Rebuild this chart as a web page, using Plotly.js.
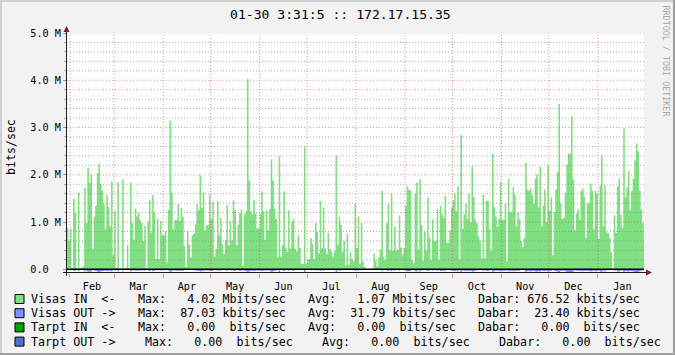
<!DOCTYPE html>
<html><head><meta charset="utf-8">
<script src="https://cdn.plot.ly/plotly-3.0.1.min.js"></script>
<style>html,body{margin:0;padding:0;background:#f2f2f2;}#chart{width:675px;height:355px;}</style>
</head><body><div id="chart"></div>
<script>
// ---- data: daily averages, Visas IN (Mbits/sec) ----
const jan13 = [0.88, 0.61];
const feb13 = [0.86,0.03,1.50,1.19,0.03,1.62,0.03,0.04,0.06,1.72,0.98,2.15,1.83,2.01,0.44,1.12,1.35,2.04,2.24,1.81,1.67,1.39,0.85,1.57,1.32,0.91,1.86,0.30];
const mar13 = [1.23,0.02,1.84,0.03,0.02,1.90,0.02,0.03,0.52,0.02,1.83,0.98,0.63,1.28,1.12,1.19,1.04,0.98,0.60,0.92,0.02,1.00,1.46,0.77,1.58,1.21,0.22,1.07,0.22,1.02,0.72];
const apr13 = [0.72,0.81,0.15,1.26,3.15,1.62,0.85,1.04,1.04,1.38,1.02,1.30,1.11,0.49,0.05,0.81,0.52,0.25,0.72,0.75,0.95,1.38,1.25,1.99,1.30,1.62,0.82,0.93,0.93,1.57];
const may13 = [1.06,1.43,0.27,0.43,1.44,0.72,1.09,0.53,0.32,0.63,1.35,0.51,1.02,0.61,1.46,1.25,0.51,0.95,1.19,1.27,0.08,1.16,1.23,4.02,1.88,1.23,1.16,1.47,1.18,0.87,0.87];
const jun13 = [1.18,1.65,1.23,0.63,1.25,0.82,1.28,2.33,1.88,1.28,1.07,0.27,2.39,0.27,0.51,1.65,0.46,0.37,1.25,0.44,1.00,1.07,0.44,0.38,0.72,0.45,0.12,0.12,2.59,0.12];
const jul13 = [0.20,0.22,0.66,0.54,0.22,0.98,0.79,0.34,1.45,0.44,1.30,0.44,0.32,0.77,0.43,0.37,0.27,0.38,2.41,0.52,1.11,0.95,0.37,0.60,0.08,0.75,0.10,0.37,0.22,0.17,1.38];
const aug13 = [0.45,1.12,0.12,0.98,0.16,0.05,0,0,0,0,0,0.33,0.19,0.06,0.25,0.42,1.67,0.27,0.19,0.98,1.39,0.40,1.60,0.40,0.90,0.40,0.42,1.14,0.46,0.30,0.45];
const sep13 = [1.35,1.76,1.69,1.67,0.20,0.13,1.60,1.83,0.42,1.90,0.93,0.19,0.79,0.40,1.52,0.67,0.20,1.06,0.60,0.60,1.28,0.20,1.35,1.16,1.09,1.55,0.56,0.56,0.83,1.31];
const oct13 = [1.46,1.60,1.23,1.76,0.22,2.84,0.86,1.16,1.40,1.07,1.60,1.00,2.17,1.53,1.04,0.98,0.70,0.61,0.23,1.57,0.23,1.45,1.45,0.85,0.39,2.44,1.32,1.12,0.90,1.07,1.85];
const nov13 = [1.05,1.05,1.38,0.17,1.91,1.21,1.21,1.74,1.57,0.91,1.21,1.06,0.60,0.47,0.67,2.25,1.69,1.66,1.71,1.57,1.39,1.92,2.01,1.31,2.17,0.91,1.35,1.69,1.00,2.20];
const dec13 = [1.23,1.52,0.30,1.21,1.69,2.06,3.50,1.40,1.07,1.09,1.62,2.22,2.45,2.44,3.24,1.90,0.83,1.18,1.27,1.05,1.66,1.71,1.53,0.66,1.40,1.40,1.81,1.67,0.86,1.66,1.60];
const jan14 = [0.65,1.78,2.41,0.91,1.78,0.79,0.77,0.67,0.36,0.01,1.14,0.77,1.76,1.92,1.16,0.87,2.98,1.52,1.73,2.08,1.25,1.66,1.92,2.31,2.66,2.50,1.67,1.26,0.98,0.68];

// ---- data: daily averages, Visas OUT (kbits/sec), drawn mirrored below zero ----
const jan13o = [22,18];
const feb13o = [25,6,38,30,5,41,4,5,8,44,27,55,46,52,15,30,36,50,57,47,42,36,24,40,34,26,47,11];
const mar13o = [32,5,46,6,5,48,4,6,16,5,45,26,19,33,29,31,28,25,18,24,4,27,37,21,40,31,8,28,8,27,20];
const apr13o = [20,22,7,33,72,41,23,27,27,35,27,34,29,15,4,22,15,9,20,21,25,35,32,49,33,41,22,25,25,40];
const may13o = [28,37,9,13,37,20,29,15,10,18,35,15,27,18,37,32,15,25,31,33,5,30,32,87,47,32,30,38,30,23,23];
const jun13o = [31,42,32,18,32,22,33,57,47,33,28,9,59,9,15,42,14,11,32,13,27,28,13,12,20,14,5,5,63,5];
const jul13o = [7,8,18,16,8,26,21,10,37,13,33,13,10,21,13,11,9,12,59,15,29,25,11,17,4,21,5,11,8,7,36];
const aug13o = [13,29,5,26,6,3,0,0,0,0,0,10,7,3,8,12,42,9,7,26,35,12,40,12,24,12,13,30,14,9,13];
const sep13o = [35,44,42,42,7,6,40,46,13,47,25,7,21,12,38,19,7,28,17,17,33,7,35,30,29,39,16,16,22,33];
const oct13o = [37,40,32,44,8,70,23,30,36,28,40,27,54,39,28,26,19,17,8,39,8,37,37,23,12,60,34,29,24,28,46];
const nov13o = [28,28,35,7,48,31,31,43,40,24,31,28,17,14,19,56,42,41,43,40,35,48,50,34,54,25,35,42,27,55];
const dec13o = [32,38,10,31,42,51,80,36,28,29,41,55,61,60,78,47,22,31,33,28,41,43,38,18,36,36,45,42,23,41,40];
const jan14o = [18,44,59,24,44,21,21,18,11,2,30,21,44,48,30,23,72,38,43,52,32,41,48,57,65,62,42,32,26,19];

// ---- text ----
const titleText = '01-30 3:31:5 :: 172.17.15.35';
const yTitle = 'bits/sec';
const yTickVals = [0, 1, 2, 3, 4, 5];
const yTickText = ['0.0  ', '1.0 M', '2.0 M', '3.0 M', '4.0 M', '5.0 M'];
const legendNames = ['Visas IN  <-', 'Visas OUT ->', 'Tarpt IN  <-', 'Tarpt OUT ->'];
const legendColors = ['#80df80', '#7f8fff', '#00a300', '#4f6fd0'];
const maxText = ['   4.02 M', '  87.03 k', '   0.00  ', '   0.00  '];
const avgText = ['   1.07 M', '  31.79 k', '   0.00  ', '   0.00  '];
const lastText = [' 676.52 k', '  23.40 k', '   0.00  ', '   0.00  '];
const watermark = 'RRDTOOL / TOBI OETIKER';

// ---- build series ----
const inMbps = [].concat(jan13, feb13, mar13, apr13, may13, jun13, jul13, aug13, sep13, oct13, nov13, dec13, jan14);
const outKbps = [].concat(jan13o, feb13o, mar13o, apr13o, may13o, jun13o, jul13o, aug13o, sep13o, oct13o, nov13o, dec13o, jan14o);
const DAY = 86400000;
const firstDay = Date.UTC(2013, 0, 30);
const fmt = t => new Date(t).toISOString().slice(0, 19).replace('T', ' ');
const xs = inMbps.map((_, i) => fmt(firstDay + i * DAY));
xs.push(fmt(firstDay + inMbps.length * DAY));
const yIn = inMbps.map(v => v * 1e6); yIn.push(yIn[yIn.length - 1]);
const yOut = outKbps.map(v => -v * 1e3); yOut.push(yOut[yOut.length - 1]);

const MONO = 'DejaVu Sans Mono';
const nb = s => s.replace(/ /g, '\u00a0');
// plot area in pixels: x 67..644, y 33..273
const L = 67, R = 644, T = 33, B = 273;
const PX = p => (p - L) / (R - L);
const PY = p => (B - p) / (B - T);

const GRID = 'rgba(143,143,143,0.75)';
const MGRID = 'rgba(222,79,79,0.6)';
const DASH = '1px,2px';

const traces = [
  {x: xs, y: yIn, type: 'scatter', mode: 'lines', line: {shape: 'hv', width: 0, color: legendColors[0]},
   fill: 'tozeroy', fillcolor: legendColors[0], hoverinfo: 'skip', showlegend: false},
  {x: xs, y: yOut, type: 'scatter', mode: 'lines', line: {shape: 'hv', width: 0, color: legendColors[1]},
   fill: 'tozeroy', fillcolor: legendColors[1], hoverinfo: 'skip', showlegend: false}
];

const shapes = [];
// grid (drawn above the areas, as rrdtool does)
for (let k = 1; k <= 25; k++) {
  const major = k % 5 === 0;
  shapes.push({type: 'line', layer: 'above', xref: 'paper', yref: 'y', x0: 0, x1: 1, y0: k * 0.2e6, y1: k * 0.2e6,
    line: {color: major ? MGRID : GRID, width: 1, dash: DASH}});
}
for (let m = 1; m <= 12; m++) {
  const d = fmt(Date.UTC(2013, m, 1));
  shapes.push({type: 'line', layer: 'above', xref: 'x', yref: 'paper', x0: d, x1: d, y0: 0, y1: 1,
    line: {color: MGRID, width: 1, dash: DASH}});
}
// zero rule
shapes.push({type: 'line', layer: 'above', xref: 'paper', yref: 'y', x0: 0, x1: 1, y0: 0, y1: 0, line: {color: '#000', width: 1.5}});
// axes + arrows
shapes.push({type: 'line', layer: 'above', xref: 'paper', yref: 'paper', x0: PX(63), x1: PX(647), y0: PY(272.5), y1: PY(272.5), line: {color: '#1f1f1f', width: 1}});
shapes.push({type: 'line', layer: 'above', xref: 'paper', yref: 'paper', x0: PX(66.5), x1: PX(66.5), y0: PY(276), y1: PY(30), line: {color: '#1f1f1f', width: 1}});
shapes.push({type: 'path', layer: 'above', xref: 'paper', yref: 'paper',
  path: `M ${PX(646)} ${PY(269.5)} L ${PX(652)} ${PY(272.5)} L ${PX(646)} ${PY(275.5)} Z`, fillcolor: '#801f1f', line: {width: 0}});
shapes.push({type: 'path', layer: 'above', xref: 'paper', yref: 'paper',
  path: `M ${PX(63.5)} ${PY(32)} L ${PX(66.5)} ${PY(26)} L ${PX(69.5)} ${PY(32)} Z`, fillcolor: '#801f1f', line: {width: 0}});
// frame shading
shapes.push({type: 'rect', layer: 'below', xref: 'paper', yref: 'paper', x0: PX(0), x1: PX(675), y0: PY(0), y1: PY(2), fillcolor: '#cfcfcf', line: {width: 0}});
shapes.push({type: 'rect', layer: 'below', xref: 'paper', yref: 'paper', x0: PX(0), x1: PX(2), y0: PY(0), y1: PY(355), fillcolor: '#cfcfcf', line: {width: 0}});
shapes.push({type: 'rect', layer: 'below', xref: 'paper', yref: 'paper', x0: PX(0), x1: PX(675), y0: PY(353), y1: PY(355), fillcolor: '#9e9e9e', line: {width: 0}});
shapes.push({type: 'rect', layer: 'below', xref: 'paper', yref: 'paper', x0: PX(673), x1: PX(675), y0: PY(0), y1: PY(355), fillcolor: '#9e9e9e', line: {width: 0}});

const annotations = [];
const ann = (text, px, py, size, opts) => Object.assign({text: nb(text), xref: 'paper', yref: 'paper', x: PX(px), y: PY(py),
  showarrow: false, xanchor: 'left', yanchor: 'middle', borderpad: 0, font: {family: MONO, size: size, color: '#000'}}, opts || {});
annotations.push(ann(titleText, 340.5, 14, 13.1, {xanchor: 'center'}));
annotations.push(ann(yTitle, 11, 147, 11.6, {xanchor: 'center', textangle: -90}));
annotations.push(ann(watermark, 666, 61.5, 8.4, {xanchor: 'center', textangle: 90, font: {family: MONO, size: 8.4, color: '#aaaaaa'}}));

const rowY = [299, 313.2, 327.4, 341.6];
// element start positions (px) per legend row: label, Max, Avg, Dabar
const colX = [[30, 136.5, 307, 476.5], [30, 136.5, 307, 476.5], [30, 136.5, 307, 476.5], [30, 143.5, 320.5, 497.5]];
const LF = 11.7;
for (let i = 0; i < 4; i++) {
  const y = rowY[i];
  shapes.push({type: 'rect', layer: 'above', xref: 'paper', yref: 'paper', x0: PX(15), x1: PX(24), y0: PY(y - 4.5), y1: PY(y + 4.5),
    fillcolor: legendColors[i], line: {color: '#000', width: 1}});
  annotations.push(ann(legendNames[i], colX[i][0], y, LF));
  annotations.push(ann('Max:' + maxText[i] + 'bits/sec', colX[i][1], y, LF));
  annotations.push(ann('Avg:' + avgText[i] + 'bits/sec', colX[i][2], y, LF));
  annotations.push(ann('Dabar:' + lastText[i] + 'bits/sec', colX[i][3], y, LF));
}

const layout = {
  width: 675, height: 355,
  margin: {l: L, r: 675 - R, t: T, b: 355 - B, pad: 0},
  paper_bgcolor: '#f2f2f2', plot_bgcolor: '#ffffff',
  showlegend: false,
  xaxis: {
    type: 'date', range: ['2013-01-30 03:31:05', '2014-01-30 03:31:05'],
    dtick: 'M1', tick0: '2013-02-01', ticklabelmode: 'period', tickformat: '%b',
    showgrid: false, zeroline: false, showline: false,
    ticks: 'outside', ticklen: 4, tickcolor: MGRID, tickwidth: 1,
    tickfont: {family: MONO, size: 10.2, color: '#000'}, fixedrange: true
  },
  yaxis: {
    range: [-0.078e6, 5e6], tickvals: yTickVals.map(v => v * 1e6), ticktext: yTickText.map(nb),
    showgrid: false, zeroline: false, showline: false,
    ticks: 'outside', ticklen: 3, tickcolor: MGRID, tickwidth: 1,
    minor: {dtick: 0.2e6, tick0: 0, ticks: 'outside', ticklen: 2, tickcolor: GRID, showgrid: false},
    tickfont: {family: MONO, size: 10.2, color: '#000'}, fixedrange: true
  },
  shapes: shapes,
  annotations: annotations
};

Plotly.newPlot('chart', traces, layout, {staticPlot: true, displayModeBar: false});
</script>
</body></html>
